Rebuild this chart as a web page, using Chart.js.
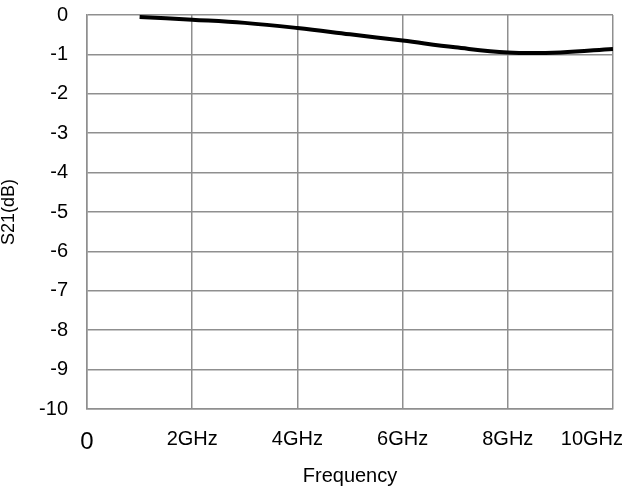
<!DOCTYPE html>
<html>
<head>
<meta charset="utf-8">
<script src="https://cdn.jsdelivr.net/npm/chart.js@4"></script>
<style>
    html, body { margin: 0; padding: 0; background: #fff; }
    #wrap { width: 626px; height: 489px; }
</style>
</head>
<body>
<div id="wrap"><canvas id="s21Chart"></canvas></div>
<script>
// S21 insertion loss vs frequency
const freqGHz = [1, 2, 3, 4, 5, 6, 7, 8, 9, 10];
const s21dB = [-0.05, -0.12, -0.2, -0.33, -0.49, -0.65, -0.82, -0.95, -0.95, -0.86];
const yTicks = [0, -1, -2, -3, -4, -5, -6, -7, -8, -9, -10];
const xTicks = [0, 2, 4, 6, 8, 10];

const FONT = 'Liberation Sans, Arial, sans-serif';
const GRID = '#8f8f8f';

function xLabel(v) {
    return v === 0 ? '0' : v + 'GHz';
}

// x tick labels drawn by hand so the last one can hug the canvas edge
const xLabelsPlugin = {
    id: 'xLabels',
    afterDraw(chart) {
        const ctx = chart.ctx;
        const scale = chart.scales.x;
        ctx.save();
        ctx.fillStyle = '#000';
        ctx.textBaseline = 'middle';
        ctx.textAlign = 'center';
        xTicks.forEach(v => {
            const size = v === 0 ? 24 : 20;
            ctx.font = size + 'px ' + FONT;
            const text = xLabel(v);
            const w = ctx.measureText(text).width;
            let x = scale.getPixelForValue(v);
            x = Math.min(x, chart.width - w / 2 - 3);
            const y = v === 0 ? 442 : 439;
            ctx.fillText(text, x, y);
        });
        ctx.restore();
    }
};

const ctx = document.getElementById('s21Chart').getContext('2d');
const s21Chart = new Chart(ctx, {
    type: 'line',
    data: {
        datasets: [{
            label: 'S21',
            data: freqGHz.map((f, i) => ({ x: f, y: s21dB[i] })),
            borderColor: '#000',
            borderWidth: 4,
            pointRadius: 0,
            tension: 0.4,
            fill: false
        }]
    },
    options: {
        responsive: true,
        maintainAspectRatio: false,
        animation: false,
        layout: {
            padding: { top: 15, right: 13, left: 0, bottom: 0 }
        },
        plugins: {
            legend: { display: false },
            tooltip: { enabled: false }
        },
        scales: {
            x: {
                type: 'linear',
                min: 0,
                max: 10,
                afterBuildTicks: scale => {
                    scale.ticks = xTicks.map(v => ({ value: v }));
                },
                afterFit: scale => {
                    scale.height = 80;
                    scale.paddingLeft = 0;
                    scale.paddingRight = 0;
                },
                ticks: { display: false },
                grid: { color: GRID, lineWidth: 1.5, drawTicks: false },
                border: { color: GRID, width: 1.5 },
                title: {
                    display: true,
                    text: 'Frequency',
                    color: '#000',
                    font: { family: FONT, size: 20 },
                    padding: { bottom: 1, top: 0 }
                }
            },
            y: {
                min: -10,
                max: 0,
                afterBuildTicks: scale => {
                    scale.ticks = yTicks.map(v => ({ value: v }));
                },
                afterFit: scale => {
                    scale.width = 87;
                    scale.paddingTop = 0;
                    scale.paddingBottom = 0;
                },
                ticks: {
                    color: '#000',
                    padding: 19,
                    font: { family: FONT, size: 20 }
                },
                grid: { color: GRID, lineWidth: 1.5, drawTicks: false },
                border: { color: GRID, width: 1.5 },
                title: {
                    display: true,
                    text: 'S21(dB)',
                    color: '#000',
                    font: { family: FONT, size: 18, lineHeight: 1 },
                    padding: { top: 0, bottom: 0 }
                }
            }
        }
    },
    plugins: [xLabelsPlugin]
});
</script>
</body>
</html>
